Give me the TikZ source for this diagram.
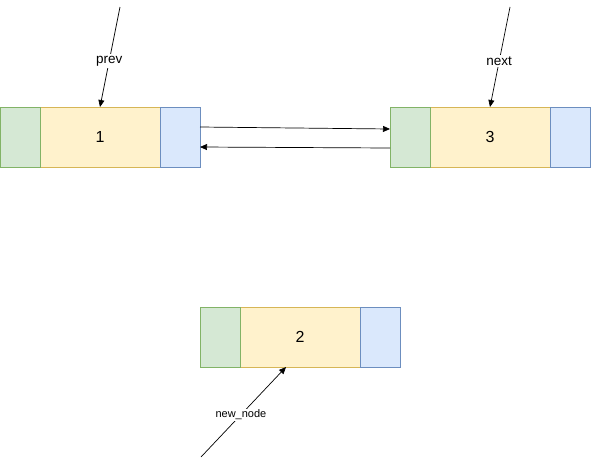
\documentclass[tikz,border=0pt]{standalone}
\usepackage{fontspec}
\setmainfont{Liberation Sans}
\usetikzlibrary{arrows.meta}
\definecolor{gfill}{HTML}{D5E8D4}\definecolor{gdraw}{HTML}{82B366}
\definecolor{yfill}{HTML}{FFF2CC}\definecolor{ydraw}{HTML}{D6B656}
\definecolor{bfill}{HTML}{DAE8FC}\definecolor{bdraw}{HTML}{6C8EBF}
\tikzset{
  cell/.style={minimum height=60pt, inner sep=0pt, outer sep=0pt, line width=0.8pt},
  gcell/.style={cell, fill=gfill, draw=gdraw, minimum width=40pt},
  ycell/.style={cell, fill=yfill, draw=ydraw, minimum width=120pt, font=\fontsize{16}{18}\selectfont},
  bcell/.style={cell, fill=bfill, draw=bdraw, minimum width=40pt},
  conn/.style={-{Triangle[length=7pt,width=6pt]}, line width=0.7pt},
  lbl/.style={fill=white, inner sep=1.5pt, font=\fontsize{13.5}{15}\selectfont},
  slbl/.style={fill=white, inner sep=1pt, font=\fontsize{11}{13}\selectfont}
}
\begin{document}
\begin{tikzpicture}[x=1pt,y=-1pt]
\useasboundingbox (0,0) rectangle (591,466);
% node 1
\node[ycell] (y1) at (100,137) {1};
\node[gcell] (g1) at (20,137) {};
\node[bcell] (b1) at (180,137) {};
% node 3
\node[ycell] (y3) at (490,137) {3};
\node[gcell] (g3) at (410,137) {};
\node[bcell] (b3) at (570,137) {};
% node 2
\node[ycell] (y2) at (300,337) {2};
\node[gcell] (g2) at (220,337) {};
\node[bcell] (b2) at (380,337) {};
% pointers
\coordinate (pstart) at (120,7);
\coordinate (nstart) at (510,7);
\coordinate (nnstart) at (201,457);
\draw[conn] (pstart) -- node[lbl, pos=0.54] {prev} (y1.north);
\draw[conn] (nstart) -- node[lbl, pos=0.54] {next} (y3.north);
\draw[conn] (nnstart) -- node[slbl, pos=0.47] {new\_node} ([xshift=-14pt]y2.south);
% links
\draw[conn] ([yshift=10pt]b1.east) -- ([yshift=8pt]g3.west);
\draw[conn] ([yshift=-11pt]g3.west) -- ([yshift=-10pt]b1.east);
\end{tikzpicture}
\end{document}
